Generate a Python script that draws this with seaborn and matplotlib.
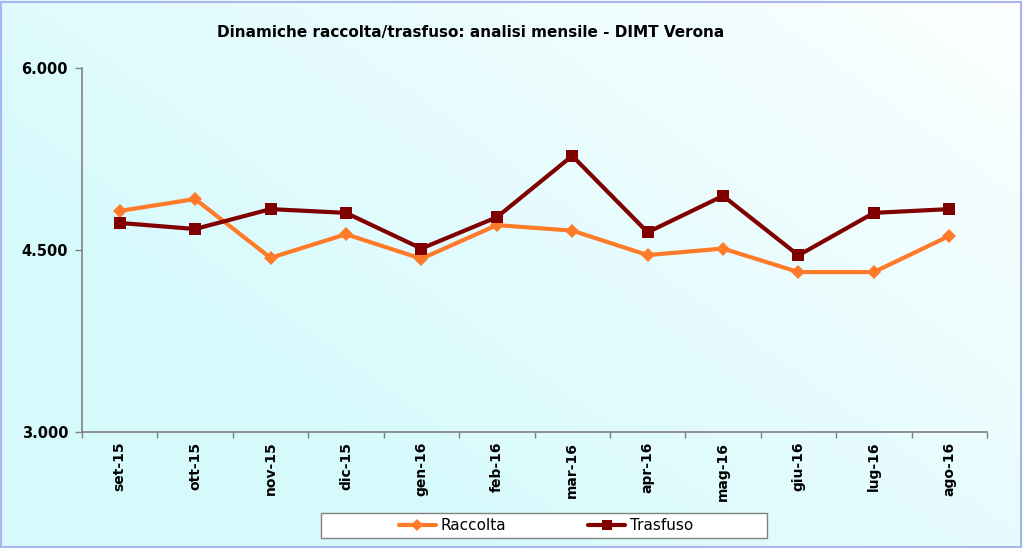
import numpy as np
import pandas as pd
import matplotlib
matplotlib.use("Agg")
import matplotlib.pyplot as plt
from matplotlib.patches import Rectangle
from matplotlib.lines import Line2D
import seaborn as sns

months = ["set-15", "ott-15", "nov-15", "dic-15", "gen-16", "feb-16",
          "mar-16", "apr-16", "mag-16", "giu-16", "lug-16", "ago-16"]
raccolta = [4822, 4920, 4435, 4630, 4428, 4705, 4660, 4458, 4512, 4318, 4318, 4616]
trasfuso = [4723, 4673, 4837, 4806, 4512, 4770, 5276, 4646, 4946, 4456, 4806, 4837]
yticks = [3000, 4500, 6000]
ytick_labels = ["3.000", "4.500", "6.000"]
title = "Dinamiche raccolta/trasfuso: analisi mensile - DIMT Verona"
col_r = "#ff7a29"
col_t = "#800000"

sns.set_theme(style="white")
plt.rcParams['font.family'] = ['DejaVu Sans']
plt.rcParams['text.color'] = 'black'
plt.rcParams['xtick.color'] = 'black'
plt.rcParams['ytick.color'] = 'black'

fig = plt.figure(figsize=(10.23, 5.48), dpi=100)

# background gradient
bg = fig.add_axes([0, 0, 1, 1], zorder=-10)
h, w = 200, 400
xx, yy = np.meshgrid(np.linspace(0, 1, w), np.linspace(1, 0, h))
t = np.clip(0.75 * xx + 0.55 * yy - 0.35, 0, 1)
c0 = np.array([0.84, 0.98, 0.99])
c1 = np.array([1.0, 1.0, 1.0])
img = c0[None, None, :] * (1 - t[..., None]) + c1[None, None, :] * t[..., None]
bg.imshow(img, aspect="auto", extent=[0, 1, 0, 1])
bg.set_axis_off()
fig.patches.append(Rectangle((0.001, 0.002), 0.997, 0.995, transform=fig.transFigure,
                             fill=False, edgecolor="#aab4ee", linewidth=1.5, zorder=5))

ax = fig.add_axes([82 / 1023, 1 - 432 / 548, (987 - 82) / 1023, (432 - 68) / 548])
ax.patch.set_alpha(0)

df = pd.DataFrame({"Valore": raccolta + trasfuso,
                   "Serie": ["Raccolta"] * 12 + ["Trasfuso"] * 12})
df["x"] = list(range(12)) * 2

sns.lineplot(data=df, x="x", y="Valore", hue="Serie", style="Serie",
             palette={"Raccolta": col_r, "Trasfuso": col_t},
             markers={"Raccolta": "D", "Trasfuso": "s"},
             dashes=False, linewidth=3, ax=ax, legend=False)
for line, ms in zip(ax.lines, [7, 9]):
    line.set_markersize(ms)
    line.set_markeredgewidth(0)

ax.set_xlim(-0.5, 11.5)
ax.set_ylim(3000, 6000)
ax.set_yticks(yticks)
ax.set_yticklabels(ytick_labels, fontweight="bold", fontsize=10.5)
ax.set_xticks(range(12))
ax.set_xticklabels(months, rotation=90, fontweight="bold", fontsize=10)
ax.set_xticks(np.arange(-0.5, 12, 1), minor=True)
ax.tick_params(axis="x", which="major", bottom=True, length=0, pad=7)
ax.tick_params(axis="x", which="minor", bottom=True, length=4, color="#808080",
               width=1, direction="out")
ax.tick_params(axis="y", left=True, length=5, color="#808080", width=1,
               direction="out", pad=5)
ax.set_xlabel("")
ax.set_ylabel("")
for s in ["top", "right"]:
    ax.spines[s].set_visible(False)
for s in ["left", "bottom"]:
    ax.spines[s].set_color("#808080")
    ax.spines[s].set_linewidth(1.2)

fig.text(471 / 1023, 1 - 32 / 548, title, ha="center", va="center",
         fontsize=11, fontweight="bold")

# legend box
fig.patches.append(Rectangle((321 / 1023, 1 - 538 / 548), 446 / 1023, 25 / 548,
                             transform=fig.transFigure, facecolor="white",
                             edgecolor="#808080", linewidth=1, zorder=3))
handles = [Line2D([], [], color=col_r, marker="D", markersize=6, markeredgewidth=0, linewidth=3),
           Line2D([], [], color=col_t, marker="s", markersize=7, markeredgewidth=0, linewidth=3)]
leg = fig.legend(handles, ["Raccolta", "Trasfuso"], loc="center",
                 bbox_to_anchor=(546 / 1023, 1 - 525.5 / 548), ncol=2,
                 frameon=False, fontsize=11, columnspacing=5.4,
                 handlelength=2.4, handletextpad=0.3, borderpad=0.2)
leg.set_zorder(6)

fig.savefig("out.png", dpi=100)
